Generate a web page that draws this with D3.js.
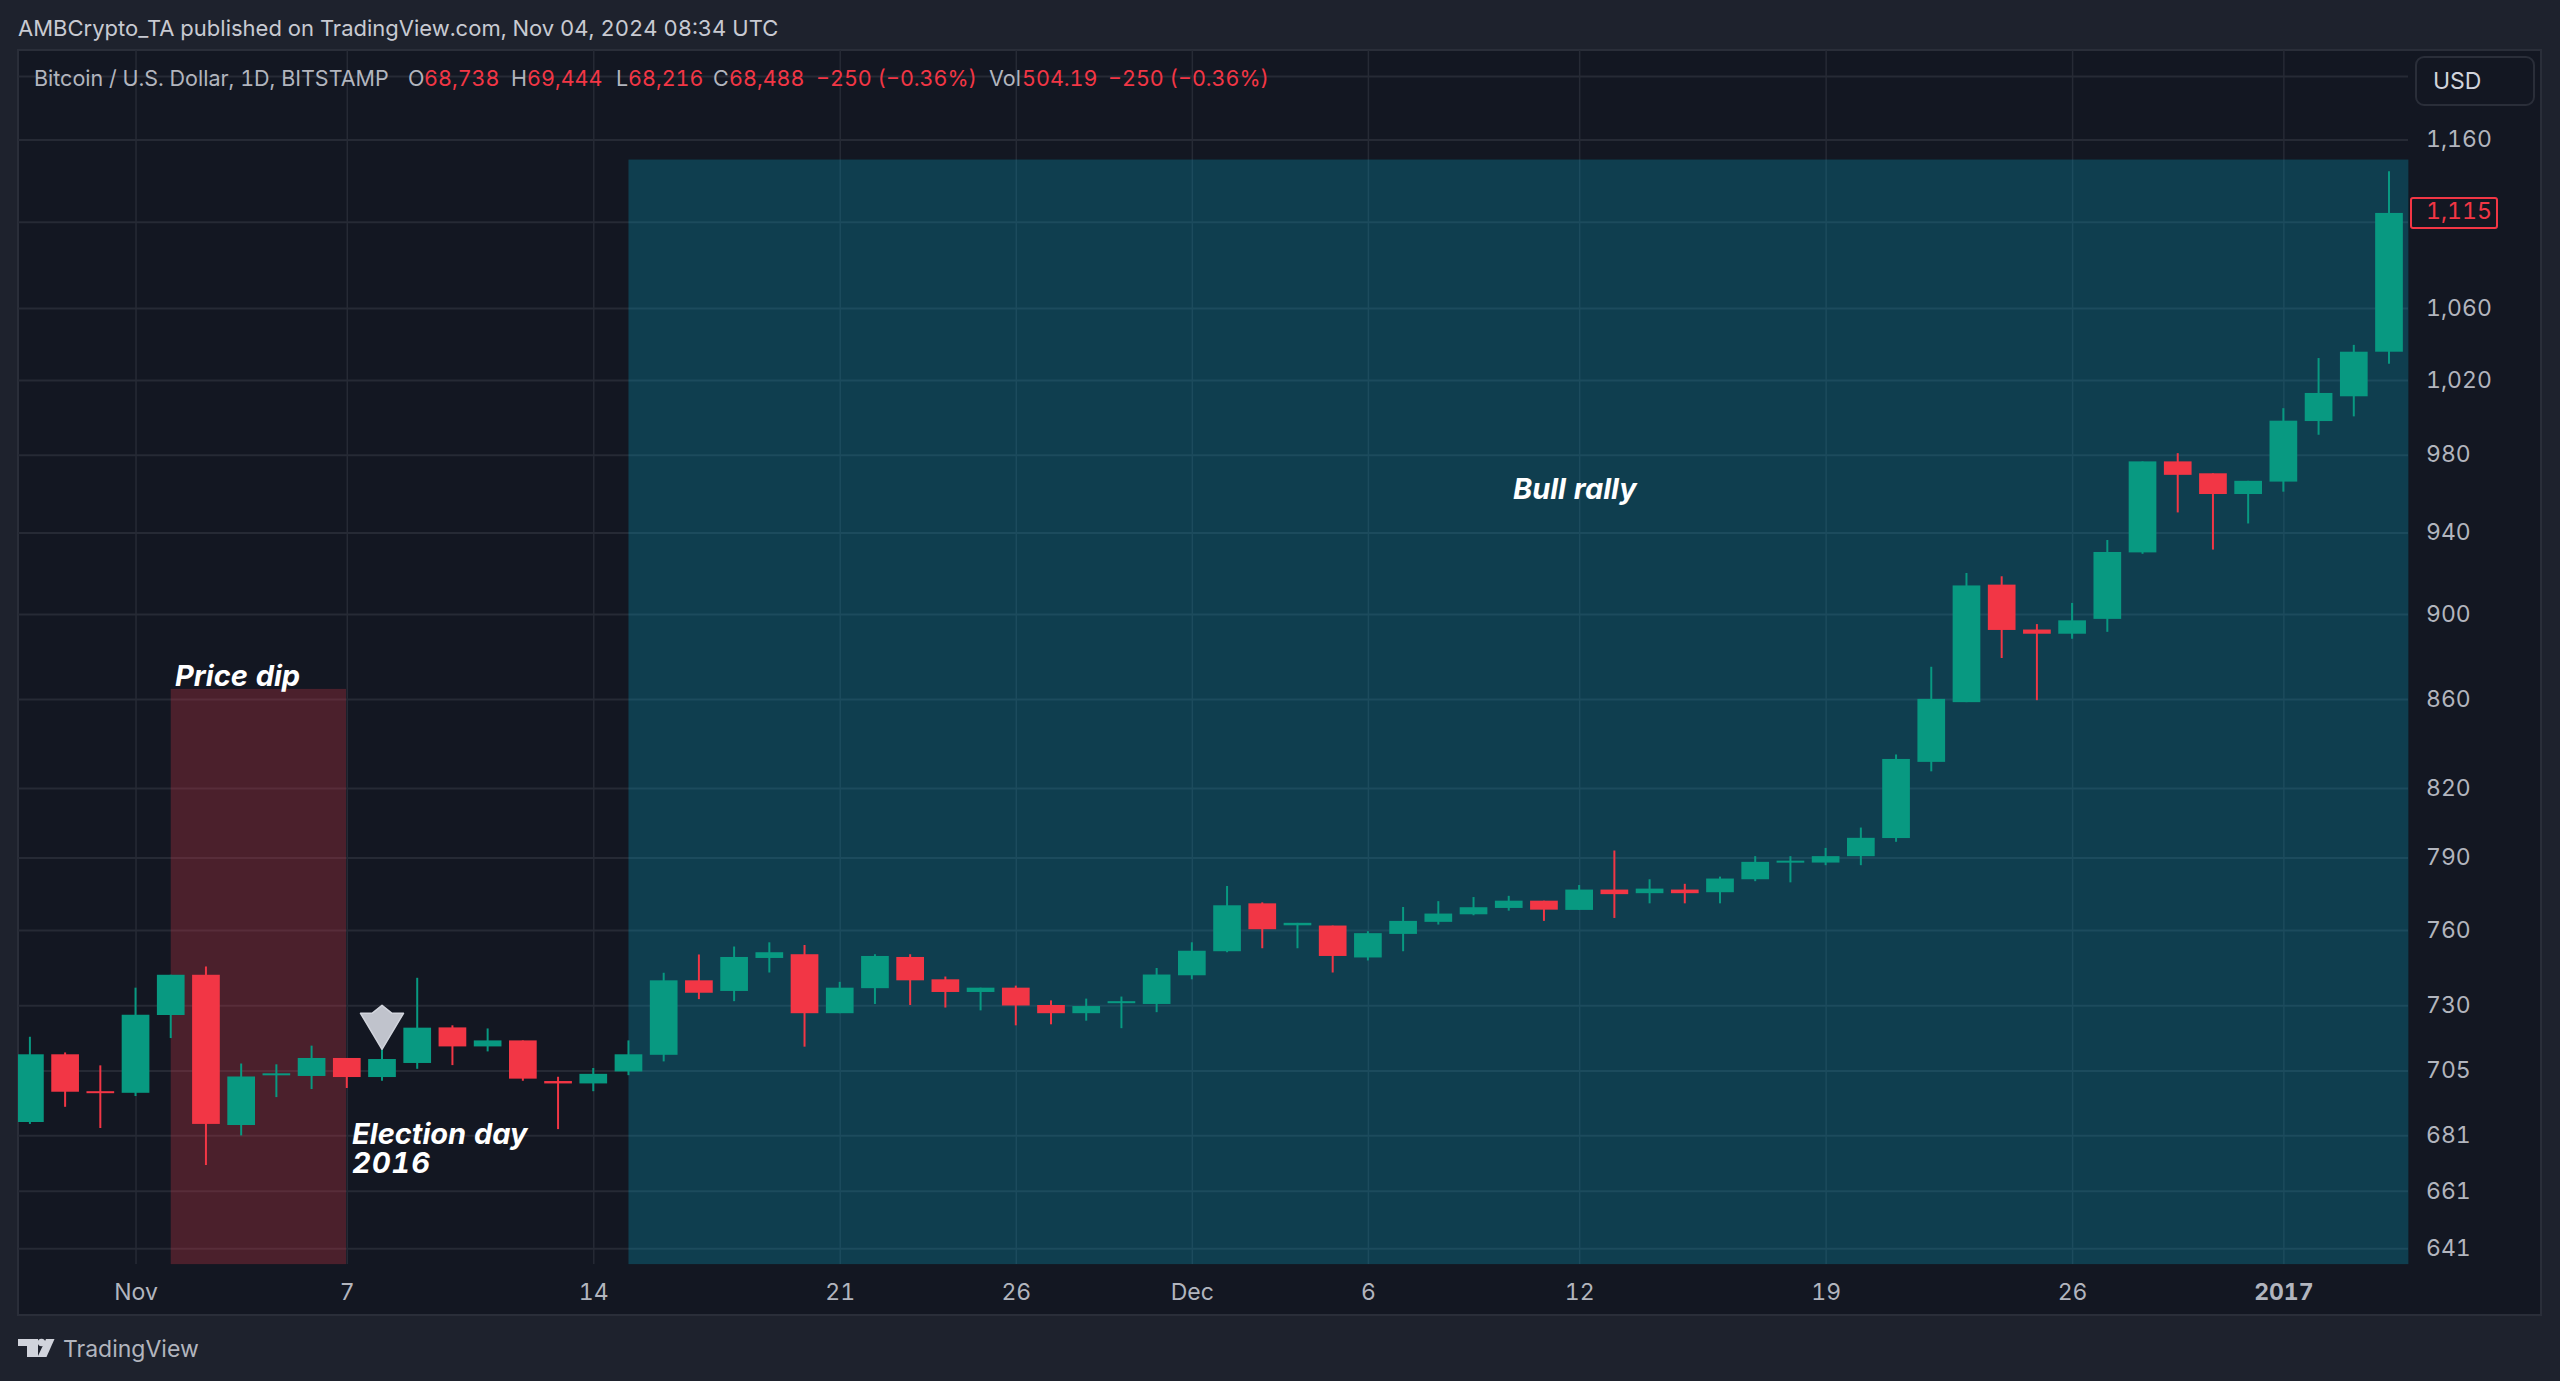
<!DOCTYPE html>
<html>
<head>
<meta charset="utf-8">
<title>Bitcoin / U.S. Dollar</title>
<script src="https://cdn.jsdelivr.net/npm/d3@7"></script>
<style>
  html, body { margin: 0; padding: 0; background: #1e222d; overflow: hidden; }
  svg { display: block; }
  text { font-family: Inter, Roboto, sans-serif; font-feature-settings: "tnum"; }
  .domain { display: none; }
</style>
</head>
<body>
<div id="chart"></div>
<script>
// daily candles, 29 Oct 2016 to 4 Jan 2017
var opens = [685.8,711.1,697.2,696.6,726.2,742.0,684.7,703.2,702.9,709.7,702.5,707.8,721.4,714.1,716.4,701.0,700.1,704.6,710.9,739.8,
  735.6,748.7,750.2,726.9,736.7,749.1,740.2,735.2,736.9,730.1,726.9,730.8,730.5,741.8,751.4,770.9,761.9,
  761.8,748.9,758.4,763.3,766.4,769.0,772.0,768.2,776.6,775.1,776.6,775.5,780.9,787.9,787.9,790.6,
  798.3,831.5,858.5,914.2,892.5,890.5,897.6,930.1,976.5,970.3,959.6,966.0,997.8,1011.1,1035.5];
var highs = [717.8,711.8,706.9,736.9,742.0,745.3,707.6,707.3,714.4,709.7,713.0,740.8,722.2,721.0,716.4,702.6,705.9,716.4,742.8,750.1,
  753.3,755.0,753.9,739.2,750.2,750.2,741.3,736.9,737.7,731.9,732.6,733.4,744.7,755.0,778.1,771.3,762.9,
  761.8,759.5,769.4,771.8,773.5,774.0,772.0,778.5,793.0,780.9,779.0,782.0,790.6,790.6,794.1,802.8,
  834.8,874.9,919.9,918.3,895.1,905.3,936.3,976.5,980.8,970.3,966.4,1004.7,1032.0,1039.3,1140.5];
var lows = [685.1,691.4,683.6,695.4,717.3,670.2,680.9,695.0,698.0,698.4,701.1,705.6,707.0,712.2,701.1,683.2,697.2,703.2,708.4,732.4,
  731.6,742.9,714.0,726.9,730.5,730.1,729.1,728.0,722.2,722.6,724.0,721.1,727.3,740.2,751.0,752.6,752.6,
  742.9,747.7,751.4,762.2,766.0,767.9,763.7,768.2,764.9,770.9,770.9,770.9,780.1,779.6,786.8,786.8,
  796.7,827.3,858.5,879.0,859.4,888.1,891.4,929.4,950.2,931.5,944.6,960.8,990.5,1000.3,1028.9];
var closes = [711.1,697.0,696.6,726.3,742.0,685.1,702.7,703.9,709.7,702.5,709.3,721.3,714.1,716.4,701.9,700.1,703.7,711.1,739.8,734.9,
  749.1,751.0,726.9,736.9,749.5,739.8,735.2,736.9,729.9,726.9,729.7,731.6,742.1,751.6,770.1,760.3,762.9,
  749.5,758.7,763.7,766.7,769.3,772.0,768.3,776.6,774.7,777.0,775.1,781.2,788.2,788.7,790.6,798.4,
  832.8,860.0,913.8,892.3,890.5,896.9,930.3,976.5,969.5,959.6,966.4,998.0,1012.9,1035.5,1115.3];
var days = d3.utcDay.range(new Date("2016-10-29"), new Date("2017-01-05"));

var priceTicks = [641,661,681,705,730,760,790,820,860,900,940,980,1020,1060,1110,1160,1200];
var hiddenPriceTicks = [1110,1200];
var timeTicks = ["2016-11-01","2016-11-07","2016-11-14","2016-11-21","2016-11-26","2016-12-01","2016-12-06","2016-12-12","2016-12-19","2016-12-26","2017-01-01"];
var timeTickLabels = ["Nov","7","14","21","26","Dec","6","12","19","26","2017"];

var lastPrice = 1115;
var electionDay = "2016-11-08";
var electionHigh = 713;
var dipZone = ["2016-11-02","2016-11-06T23:30:00Z",635.6,864.6];
var rallyZone = ["2016-11-15","2017-01-04T13:12:00Z",635.6,1147.6];

var W = 2560, H = 1381;
var plot = { left: 18, top: 50, right: 2408, bottom: 1264, outerRight: 2541, outerBottom: 1315 };

var UP = "#089981", DOWN = "#f23645", GRID = "#262a35", BG = "#131722", AXIS_TEXT = "#b2b5be";

var svg = d3.select("#chart").append("svg").attr("width", W).attr("height", H);

svg.append("rect").attr("width", W).attr("height", H).attr("fill", "#1e222d");
svg.append("rect")
    .attr("x", plot.left).attr("y", plot.top)
    .attr("width", plot.outerRight - plot.left).attr("height", plot.outerBottom - plot.top)
    .attr("fill", BG).attr("stroke", "#2a2e39").attr("stroke-width", 2);

svg.append("clipPath").attr("id", "plot-clip").append("rect")
    .attr("x", plot.left).attr("y", plot.top)
    .attr("width", plot.right - plot.left).attr("height", plot.bottom - plot.top);

var x = d3.scaleUtc().domain([days[0], days[days.length - 1]]).range([29.9, 2389]);
var y = d3.scaleLog().domain([641, 1060]).range([1248.3, 308]);

// grid + axes
var xAxis = d3.axisBottom(x)
    .tickValues(timeTicks.map(function (d) { return new Date(d); }))
    .tickFormat(function (d, i) { return timeTickLabels[i]; })
    .tickSizeInner(-(plot.bottom - plot.top))
    .tickSizeOuter(0)
    .tickPadding(20);

var xg = svg.append("g").attr("transform", "translate(0," + plot.bottom + ")").call(xAxis);
xg.selectAll("line").attr("stroke", GRID).attr("stroke-width", 1.5);
xg.selectAll("text")
    .attr("fill", AXIS_TEXT).attr("font-size", 23)
    .attr("font-weight", function (d, i) { return timeTickLabels[i] == "2017" ? 700 : 400; });

var yAxis = d3.axisRight(y)
    .tickValues(priceTicks)
    .tickFormat(function (d) { return hiddenPriceTicks.indexOf(d) >= 0 ? "" : d3.format(",")(d); })
    .tickSizeInner(-(plot.right - plot.left))
    .tickSizeOuter(0)
    .tickPadding(18);

var yg = svg.append("g").attr("transform", "translate(" + plot.right + ",0)").call(yAxis);
yg.selectAll("line").attr("stroke", GRID).attr("stroke-width", 2);
yg.selectAll("text").attr("fill", AXIS_TEXT).attr("font-size", 23).attr("dy", "0.31em");

// shaded zones
function zone(z, color) {
    svg.append("rect")
        .attr("x", x(new Date(z[0]))).attr("y", y(z[3]))
        .attr("width", x(new Date(z[1])) - x(new Date(z[0])))
        .attr("height", y(z[2]) - y(z[3]))
        .attr("fill", color).attr("fill-opacity", 0.3);
}
zone(dipZone, "rgb(206,53,71)");
zone(rallyZone, "rgb(6,153,184)");

// candles
var candles = svg.append("g").attr("clip-path", "url(#plot-clip)");
var bodyWidth = 27.7;

candles.selectAll("line").data(days).enter().append("line")
    .attr("x1", function (d) { return x(d); })
    .attr("x2", function (d) { return x(d); })
    .attr("y1", function (d, i) { return y(highs[i]); })
    .attr("y2", function (d, i) { return y(lows[i]); })
    .attr("stroke", function (d, i) { return closes[i] >= opens[i] ? UP : DOWN; })
    .attr("stroke-width", 2);

candles.selectAll("rect").data(days).enter().append("rect")
    .attr("x", function (d) { return x(d) - bodyWidth / 2; })
    .attr("y", function (d, i) { return y(Math.max(opens[i], closes[i])); })
    .attr("width", bodyWidth)
    .attr("height", function (d, i) { return Math.max(2, Math.abs(y(opens[i]) - y(closes[i]))); })
    .attr("fill", function (d, i) { return closes[i] >= opens[i] ? UP : DOWN; });

// election day arrow
var ax = x(new Date(electionDay)), ay = y(electionHigh);
var arrow = d3.path();
arrow.moveTo(ax, ay);
arrow.lineTo(ax - 21.5, ay - 36);
arrow.lineTo(ax - 10, ay - 36);
arrow.lineTo(ax, ay - 44);
arrow.lineTo(ax + 10, ay - 36);
arrow.lineTo(ax + 21.5, ay - 36);
arrow.closePath();
svg.append("path").attr("d", arrow.toString())
    .attr("fill", "#c0c3cc").attr("stroke", "#d1d4dc").attr("stroke-width", 1.5).attr("stroke-linejoin", "round");

// annotations
function note(txt, tx, ty) {
    return svg.append("text").attr("x", tx).attr("y", ty).text(txt)
        .attr("fill", "#ffffff").attr("font-size", 29).attr("font-weight", 700).attr("font-style", "italic");
}
note("Price dip", 175, 686);
note("Bull rally", 1513, 499);
// two lines in one text element, the lines sit tight in the reference
var election = note("", 352, 1144);
election.append("tspan").attr("x", 352).text("Election day");
election.append("tspan").attr("x", 352).attr("dy", 29).attr("letter-spacing", 1).text("2016");

// header and legend
svg.append("text").attr("x", 18).attr("y", 36).attr("font-size", 22).attr("fill", "#c8cad2")
    .text("AMBCrypto_TA published on TradingView.com, Nov 04, 2024 08:34 UTC");

var legend = [
    ["Bitcoin / U.S. Dollar, 1D, BITSTAMP", 34, AXIS_TEXT],
    ["O", 408, AXIS_TEXT], ["68,738", 424, DOWN],
    ["H", 511, AXIS_TEXT], ["69,444", 527, DOWN],
    ["L", 616, AXIS_TEXT], ["68,216", 628, DOWN],
    ["C", 713, AXIS_TEXT], ["68,488", 729, DOWN],
    ["\u2212250 (\u22120.36%)", 816, DOWN],
    ["Vol", 989, AXIS_TEXT], ["504.19", 1022, DOWN],
    ["\u2212250 (\u22120.36%)", 1108, DOWN]
];
svg.append("g").selectAll("text").data(legend).enter().append("text")
    .attr("x", function (d) { return d[1]; })
    .attr("y", 86)
    .attr("font-size", 21.5)
    .attr("fill", function (d) { return d[2]; })
    .text(function (d) { return d[0]; });

// last price tag
svg.append("rect").attr("x", 2411).attr("y", y(lastPrice) - 15.5)
    .attr("width", 86).attr("height", 30).attr("rx", 2)
    .attr("fill", BG).attr("stroke", DOWN).attr("stroke-width", 2);
svg.append("text").attr("x", 2426).attr("y", y(lastPrice)).attr("dy", "0.26em")
    .attr("font-size", 23).attr("fill", DOWN).text(d3.format(",")(lastPrice));

// currency button
svg.append("rect").attr("x", 2416).attr("y", 57).attr("width", 118).attr("height", 48).attr("rx", 8)
    .attr("fill", BG).attr("stroke", "#2a2e39").attr("stroke-width", 2);
svg.append("text").attr("x", 2433).attr("y", 89).attr("font-size", 23).attr("fill", "#d1d4dc").text("USD");

// logo
var logo = svg.append("g").attr("fill", "#d1d4dc");
logo.append("path").attr("d", "M18 1339H38V1357H27V1346H18Z");
logo.append("circle").attr("cx", 41.5).attr("cy", 1342.5).attr("r", 3.7);
logo.append("path").attr("d", "M46 1339H54.5L46.5 1357H37.5Z");
svg.append("text").attr("x", 63).attr("y", 1357).attr("font-size", 23).attr("fill", "#b2b5be").text("TradingView");
</script>
</body>
</html>
